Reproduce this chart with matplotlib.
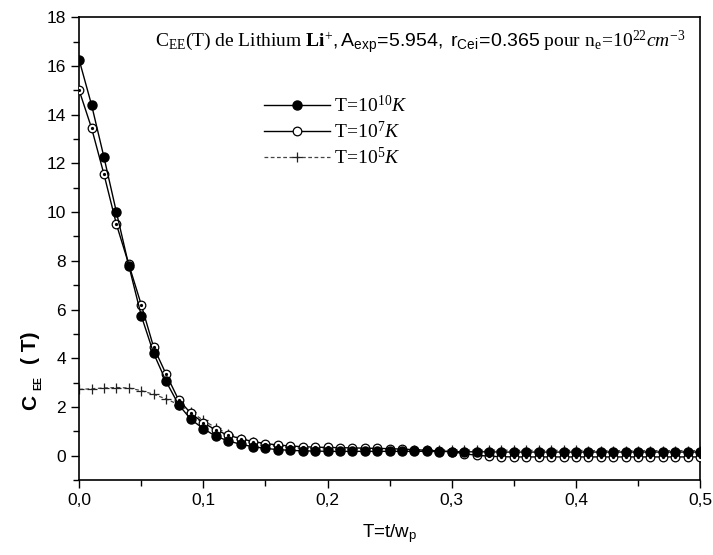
import matplotlib
matplotlib.use("Agg")
import matplotlib.pyplot as plt
from matplotlib.ticker import MultipleLocator, FuncFormatter
import numpy as np

plt.rcParams['mathtext.fontset'] = 'custom'
plt.rcParams['mathtext.rm'] = 'Liberation Serif'
plt.rcParams['mathtext.it'] = 'Liberation Serif:italic'
plt.rcParams['mathtext.bf'] = 'Liberation Serif:bold'
plt.rcParams['mathtext.sf'] = 'Liberation Sans'

t = [round(0.01 * i, 2) for i in range(51)]

c_1e10 = [16.25, 14.4, 12.25, 10.0, 7.8, 5.75, 4.2, 3.05, 2.1, 1.49, 1.11,
          0.80, 0.61, 0.47, 0.37, 0.30, 0.25, 0.22, 0.20, 0.19, 0.18,
          0.18, 0.18, 0.18, 0.18, 0.18, 0.18, 0.18, 0.18, 0.17, 0.17,
          0.16, 0.16, 0.16, 0.15, 0.15, 0.15, 0.15, 0.15, 0.15, 0.15,
          0.15, 0.15, 0.15, 0.15, 0.15, 0.15, 0.15, 0.15, 0.15, 0.15]

c_1e7 = [15.0, 13.45, 11.55, 9.5, 7.85, 6.2, 4.45, 3.35, 2.3, 1.74, 1.35,
         1.06, 0.84, 0.70, 0.58, 0.50, 0.44, 0.40, 0.37, 0.35, 0.34,
         0.33, 0.32, 0.31, 0.30, 0.29, 0.27, 0.25, 0.22, 0.20, 0.17,
         0.08, 0.02, -0.02, -0.04, -0.05, -0.05, -0.05, -0.05, -0.05, -0.05,
         -0.05, -0.05, -0.05, -0.05, -0.05, -0.05, -0.05, -0.05, -0.05, -0.05]

c_1e5 = [2.72, 2.75, 2.78, 2.80, 2.78, 2.67, 2.52, 2.33, 2.10, 1.80, 1.45,
         1.15, 0.90, 0.70, 0.56, 0.46, 0.39, 0.34, 0.31, 0.29, 0.28,
         0.27, 0.27, 0.26, 0.26, 0.25, 0.25, 0.25, 0.24, 0.24, 0.24,
         0.23, 0.23, 0.23, 0.23, 0.22, 0.22, 0.22, 0.22, 0.22, 0.22,
         0.21, 0.21, 0.21, 0.21, 0.21, 0.21, 0.21, 0.21, 0.21, 0.21]

labels = [r"$\mathrm{T\!=\!10^{10}}\mathit{K}$",
          r"$\mathrm{T\!=\!10^{7}}\mathit{K}$",
          r"$\mathrm{T\!=\!10^{5}}\mathit{K}$"]

fig = plt.figure(figsize=(7.13, 5.55), dpi=100)
ax = fig.add_axes([0.111, 0.135, 0.871, 0.834])

ax.plot(t, c_1e5, color='#444444', lw=0.9, ls=(0, (3, 2)), marker='+',
        ms=7, mew=0.9, mec='#222222', label=labels[2], zorder=2)
ax.plot(t, c_1e7, color='black', lw=1.0, marker='o', ms=6.2, mfc='white',
        mec='black', mew=0.9, label=labels[1], zorder=3)
ax.plot(t, c_1e7, ls='none', marker='o', ms=1.3, mfc='black', mec='black',
        zorder=3.5)
ax.plot(t, c_1e10, color='black', lw=1.0, marker='o', ms=6.5, mfc='black',
        mec='black', label=labels[0], zorder=4)

ax.set_xlim(0, 0.5)
ax.set_ylim(-1, 18)
ax.xaxis.set_major_locator(MultipleLocator(0.1))
ax.xaxis.set_minor_locator(MultipleLocator(0.05))
ax.yaxis.set_major_locator(MultipleLocator(2))
ax.yaxis.set_minor_locator(MultipleLocator(1))
ax.xaxis.set_major_formatter(FuncFormatter(lambda v, p: f"{v:.1f}".replace('.', ',')))
ax.yaxis.set_major_formatter(FuncFormatter(lambda v, p: f"{int(round(v))}"))
ax.tick_params(axis='both', which='major', direction='out', length=6, width=1.0,
               labelsize=12.5)
ax.tick_params(axis='both', which='minor', direction='out', length=4, width=1.0)
for lab in ax.get_xticklabels() + ax.get_yticklabels():
    lab.set_fontfamily('Liberation Sans')
for s in ax.spines.values():
    s.set_linewidth(1.2)

ax.set_xlabel(r"T=t/w$_{\mathsf{p}}$", fontsize=13.5, family='Liberation Sans',
              labelpad=10)

# y label pieces: C, subscript EE, ( T)
fig.text(0.043, 1 - 402 / 555, "C", rotation=90, fontsize=15,
         family='Liberation Sans', weight='bold', ha='center', va='center')
fig.text(0.053, 1 - 383 / 555, "EE", rotation=90, fontsize=7.5,
         family='Liberation Sans', weight='bold', ha='center', va='center')
fig.text(0.043, 1 - 348 / 555, "( T)", rotation=90, fontsize=15,
         family='Liberation Sans', weight='bold', ha='center', va='center')

title = (r"$\mathrm{C_{EE}(T)\ de\ Lithium\ }\mathbf{Li}^{+}"
         r"\mathsf{,A_{exp}\!=\!5.954,\ r_{Cei}\!=\!0.365}"
         r"\mathrm{\ pour\ n_{e}\!=\!10^{22}}\mathit{cm^{-3}}$")
ax.text(0.55, 0.945, title, transform=ax.transAxes, ha='center', va='center',
        fontsize=14)

h, l = ax.get_legend_handles_labels()
leg = ax.legend(h[::-1], l[::-1], loc='upper left', bbox_to_anchor=(0.27, 0.87),
                frameon=False, fontsize=14, handlelength=3.4, handletextpad=0.2,
                labelspacing=0.25)

fig.savefig("out.png", dpi=100)
